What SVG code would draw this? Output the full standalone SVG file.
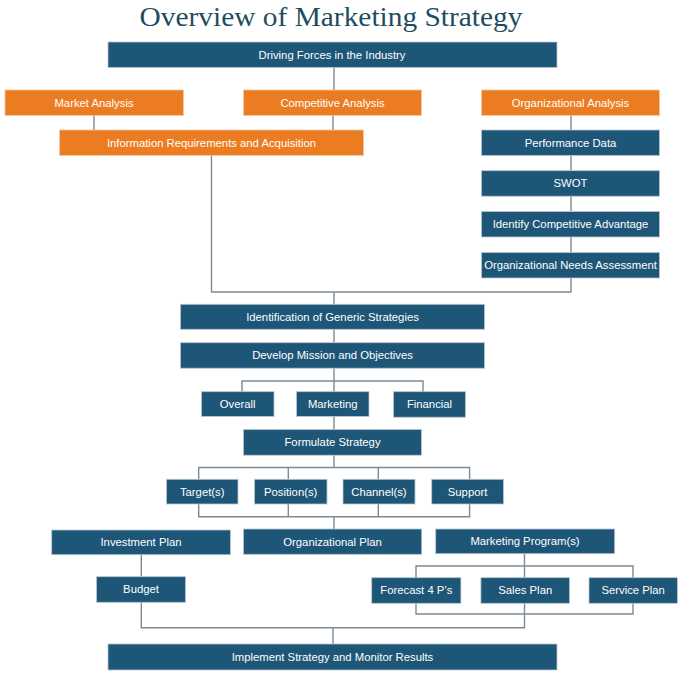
<svg xmlns="http://www.w3.org/2000/svg" width="680" height="674" viewBox="0 0 680 674">
<style>
.b{fill:#1d5677;stroke:#b9c6d0;stroke-width:0.8}
.o{fill:#ec7c22;stroke:#f3c9a3;stroke-width:0.8}
.t{font-family:"Liberation Sans",Arial,sans-serif;font-size:11.3px;fill:#ffffff;text-anchor:middle}
.c{fill:none;stroke:#7d8a96;stroke-width:1.4}
</style>
<rect width="680" height="674" fill="#ffffff"/>
<text x="331" y="26" font-family="'Liberation Serif','Times New Roman',serif" font-size="28" fill="#1f4d5e" text-anchor="middle" textLength="383" lengthAdjust="spacingAndGlyphs">Overview of Marketing Strategy</text>
<g id="connectors">
<path class="c" d="M334 67V90"/>
<path class="c" d="M94 115V130M333 115V130"/>
<path class="c" d="M571 115V130M571 155V171M571 196V211M571 237V252"/>
<path class="c" d="M211.5 155V292H571V278M334 292V304"/>
<path class="c" d="M334 329V342"/>
<path class="c" d="M334 368V392M242 392V381H423V392"/>
<path class="c" d="M334 416V430"/>
<path class="c" d="M334 455V467.5M198.7 479V467.5H469.6V479M288.3 467.5V479M378.3 467.5V479"/>
<path class="c" d="M198.7 504V516.7H469.6V504M288.3 504V516.7M378.3 504V516.7M334 516.7V529"/>
<path class="c" d="M141.3 555V577"/>
<path class="c" d="M524.5 554V578M416 578V566H633V578"/>
<path class="c" d="M416 603V614H633V603"/>
<path class="c" d="M141.3 602V627.7H524.5V603M333 627.7V644"/>
</g>
<g id="n1"><rect class="b" x="108" y="42" width="449" height="25.5"/><text class="t" x="332" y="58.8">Driving Forces in the Industry</text></g>
<g id="n2"><rect class="o" x="5" y="90" width="178.5" height="25.5"/><text class="t" x="94" y="106.8">Market Analysis</text></g>
<g id="n3"><rect class="o" x="243.5" y="90" width="178" height="25.5"/><text class="t" x="332.5" y="106.8">Competitive Analysis</text></g>
<g id="n4"><rect class="o" x="481.5" y="90" width="178" height="25.5"/><text class="t" x="570.5" y="106.8">Organizational Analysis</text></g>
<g id="n5"><rect class="o" x="59.5" y="130" width="304" height="25.5"/><text class="t" x="211.5" y="146.8">Information Requirements and Acquisition</text></g>
<g id="n6"><rect class="b" x="481.5" y="130" width="178" height="25.5"/><text class="t" x="570.5" y="146.8">Performance Data</text></g>
<g id="n7"><rect class="b" x="481.5" y="170.7" width="178" height="25.5"/><text class="t" x="570.5" y="187.3">SWOT</text></g>
<g id="n8"><rect class="b" x="481.5" y="211.5" width="178" height="25.5"/><text class="t" x="570.5" y="228.3">Identify Competitive Advantage</text></g>
<g id="n9"><rect class="b" x="481.5" y="252.5" width="178" height="25.5"/><text class="t" x="570.5" y="269.3">Organizational Needs Assessment</text></g>
<g id="n10"><rect class="b" x="180.5" y="304.3" width="304" height="25"/><text class="t" x="332.5" y="320.8">Identification of Generic Strategies</text></g>
<g id="n11"><rect class="b" x="180.5" y="342.7" width="304" height="25.5"/><text class="t" x="332.5" y="359.3">Develop Mission and Objectives</text></g>
<g id="n12"><rect class="b" x="201.5" y="391.7" width="72.5" height="24.7"/><text class="t" x="237.7" y="408.2">Overall</text></g>
<g id="n13"><rect class="b" x="296.5" y="391.7" width="72.5" height="24.7"/><text class="t" x="332.7" y="408.2">Marketing</text></g>
<g id="n14"><rect class="b" x="393.5" y="391.7" width="72" height="25.5"/><text class="t" x="429.5" y="408.2">Financial</text></g>
<g id="n15"><rect class="b" x="243.5" y="429.5" width="178" height="25.7"/><text class="t" x="332.5" y="446.3">Formulate Strategy</text></g>
<g id="n16"><rect class="b" x="166.5" y="479.3" width="71.5" height="24.7"/><text class="t" x="202.2" y="495.8">Target(s)</text></g>
<g id="n17"><rect class="b" x="254.5" y="479.3" width="72.5" height="24.7"/><text class="t" x="290.7" y="495.8">Position(s)</text></g>
<g id="n18"><rect class="b" x="343" y="479.3" width="72" height="24.7"/><text class="t" x="379" y="495.8">Channel(s)</text></g>
<g id="n19"><rect class="b" x="431.7" y="479.3" width="71.8" height="24.7"/><text class="t" x="467.6" y="495.8">Support</text></g>
<g id="n20"><rect class="b" x="51.7" y="530" width="178.7" height="24.7"/><text class="t" x="141" y="546.3">Investment Plan</text></g>
<g id="n21"><rect class="b" x="243.5" y="529" width="178.2" height="25.3"/><text class="t" x="332.6" y="545.8">Organizational Plan</text></g>
<g id="n22"><rect class="b" x="435.7" y="529" width="179" height="24.7"/><text class="t" x="525" y="545.3">Marketing Program(s)</text></g>
<g id="n23"><rect class="b" x="96.5" y="576.7" width="89" height="25.6"/><text class="t" x="141" y="593.3">Budget</text></g>
<g id="n24"><rect class="b" x="371.7" y="577.7" width="89.2" height="25.6"/><text class="t" x="416.3" y="594.3">Forecast 4 P’s</text></g>
<g id="n25"><rect class="b" x="480.9" y="577.7" width="88.7" height="25.6"/><text class="t" x="525.2" y="594.3">Sales Plan</text></g>
<g id="n26"><rect class="b" x="589" y="577.7" width="88.4" height="25.6"/><text class="t" x="633.2" y="594.3">Service Plan</text></g>
<g id="n27"><rect class="b" x="108" y="644" width="449" height="26"/><text class="t" x="332.5" y="660.8">Implement Strategy and Monitor Results</text></g>
</svg>
